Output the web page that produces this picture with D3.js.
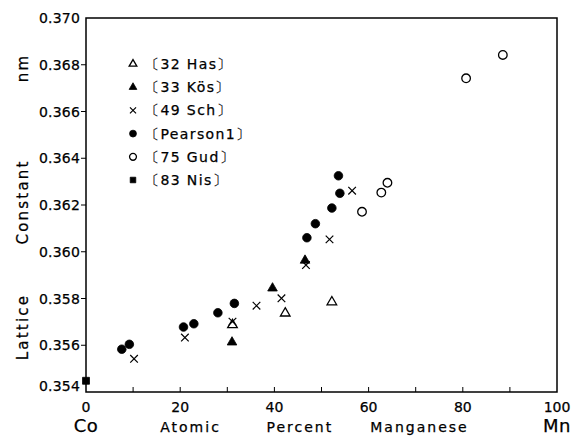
<!DOCTYPE html>
<html>
<head>
<meta charset="utf-8">
<script src="https://cdn.jsdelivr.net/npm/d3@7"></script>
<style>
  body { margin: 0; background: #fff; }
  text { font-family: 'DejaVu Sans', sans-serif; fill: #000; stroke: #000; stroke-width: 0.25; }
</style>
</head>
<body>
<svg id="chart" width="574" height="437"></svg>
<script>
// data: [at.% Mn, lattice constant nm]
const has = [[31.1, 0.35687], [42.3, 0.35737], [52.2, 0.35785]]
const kos = [[31.0, 0.35613], [39.6, 0.35844], [46.5, 0.35963]]
const sch = [[10.2, 0.35542], [21.0, 0.35633], [31.1, 0.35701], [36.2, 0.35769],
  [41.5, 0.35801], [46.7, 0.35943], [51.7, 0.36053], [56.5, 0.36261]]
const pearson = [[7.6, 0.35583], [9.2, 0.35604], [20.7, 0.35678], [22.9, 0.35692],
  [28.0, 0.35739], [31.5, 0.35779], [46.9, 0.3606], [48.7, 0.3612],
  [52.2, 0.36187], [53.9, 0.3625], [53.6, 0.36325]]
const gud = [[58.6, 0.36171], [62.7, 0.36253], [64.0, 0.36295], [80.7, 0.36742], [88.5, 0.36842]]
const nis = [[0, 0.35448]]

const yTicks = [0.354, 0.356, 0.358, 0.360, 0.362, 0.364, 0.366, 0.368, 0.370]
const xTicks = [0, 10, 20, 30, 40, 50, 60, 70, 80, 90, 100]
const xLabels = [0, 20, 40, 60, 80, 100]

const series = [
  { name: '〔32 Has〕', data: has, kind: 'triUp', fill: false },
  { name: '〔33 Kös〕', data: kos, kind: 'triUp', fill: true },
  { name: '〔49 Sch〕', data: sch, kind: 'cross', fill: false },
  { name: '〔Pearson1〕', data: pearson, kind: 'circle', fill: true },
  { name: '〔75 Gud〕', data: gud, kind: 'circle', fill: false },
  { name: '〔83 Nis〕', data: nis, kind: 'square', fill: true },
]

const plotLeft = 86, plotRight = 557, plotTop = 18, plotBottom = 392
const x = d3.scaleLinear().domain([0, 100]).range([plotLeft, plotRight])
const y = d3.scaleLinear().domain([0.354, 0.370]).range([plotBottom, plotTop])

const svg = d3.select('#chart')
const ink = '#000'

function drawMark(g, kind, fill, scale) {
  if (kind === 'cross') {
    const r = 3.8 * scale
    g.append('path')
      .attr('d', `M${-r},${-r}L${r},${r}M${-r},${r}L${r},${-r}`)
      .attr('stroke', ink).attr('stroke-width', 1.2).attr('fill', 'none')
    return
  }
  const types = { triUp: d3.symbolTriangle, circle: d3.symbolCircle, square: d3.symbolSquare }
  const sizes = { triUp: 40, circle: 58, square: 48 }
  g.append('path')
    .attr('d', d3.symbol().type(types[kind]).size(sizes[kind] * scale * scale)())
    .attr('fill', fill ? ink : '#fff')
    .attr('stroke', ink)
    .attr('stroke-width', fill ? 0.8 : 1.3)
}

// frame
svg.append('rect')
  .attr('x', plotLeft).attr('y', plotTop)
  .attr('width', plotRight - plotLeft).attr('height', plotBottom - plotTop)
  .attr('fill', 'none').attr('stroke', ink).attr('stroke-width', 1.5)

// y axis ticks and labels
svg.selectAll('line.yt')
  .data(yTicks.slice(1, -1))
  .join('line')
  .attr('x1', plotLeft - 5).attr('x2', plotLeft)
  .attr('y1', (d) => y(d)).attr('y2', (d) => y(d))
  .attr('stroke', ink).attr('stroke-width', 1)

svg.selectAll('text.yl')
  .data(yTicks)
  .join('text')
  .attr('x', plotLeft - 6)
  .attr('y', (d) => y(d) + (d === 0.354 ? -1 : 5))
  .attr('text-anchor', 'end')
  .attr('font-size', 14)
  .attr('letter-spacing', 0.2)
  .text((d) => d.toFixed(3))

// x axis ticks (inward) and labels
svg.selectAll('line.xt')
  .data(xTicks.slice(1, -1))
  .join('line')
  .attr('x1', (d) => x(d)).attr('x2', (d) => x(d))
  .attr('y1', plotBottom).attr('y2', plotBottom - 5)
  .attr('stroke', ink).attr('stroke-width', 1)

svg.selectAll('text.xl')
  .data(xLabels)
  .join('text')
  .attr('x', (d) => x(d))
  .attr('y', 412)
  .attr('text-anchor', 'middle')
  .attr('font-size', 14)
  .text((d) => d)

// axis titles
const xTitle = [
  { t: 'Co', v: 0, size: 18 },
  { t: 'Atomic', v: 22.2, size: 14 },
  { t: 'Percent', v: 45.4, size: 14 },
  { t: 'Manganese', v: 70.8, size: 14 },
  { t: 'Mn', v: 100, size: 18 },
]
svg.selectAll('text.xtitle')
  .data(xTitle)
  .join('text')
  .attr('x', (d) => x(d.v))
  .attr('y', 432)
  .attr('text-anchor', 'middle')
  .attr('font-size', (d) => d.size)
  .attr('letter-spacing', (d) => (d.size > 14 ? 0.5 : 2))
  .text((d) => d.t)

const yTitle = [
  { t: 'Lattice', v: 0.35678 },
  { t: 'Constant', v: 0.36213 },
  { t: 'nm', v: 0.36786 },
]
svg.selectAll('text.ytitle')
  .data(yTitle)
  .join('text')
  .attr('transform', (d) => `translate(28,${y(d.v)}) rotate(-90)`)
  .attr('text-anchor', 'middle')
  .attr('font-size', 15)
  .attr('letter-spacing', 2.2)
  .text((d) => d.t)

// points
series.forEach((s) => {
  s.data.forEach((p) => {
    const g = svg.append('g').attr('transform', `translate(${x(p[0])},${y(p[1])})`)
    drawMark(g, s.kind, s.fill, 1)
  })
})

// legend
const legend = svg.selectAll('g.legend')
  .data(series)
  .join('g')
  .attr('transform', (d, i) => `translate(133,${64 + i * 23.2})`)

legend.each(function (d) {
  drawMark(d3.select(this), d.kind, d.fill, 0.8)
})

legend.append('text')
  .attr('x', 12)
  .attr('y', 5)
  .attr('font-size', 14)
  .attr('letter-spacing', 1.4)
  .text((d) => d.name)
</script>
</body>
</html>
